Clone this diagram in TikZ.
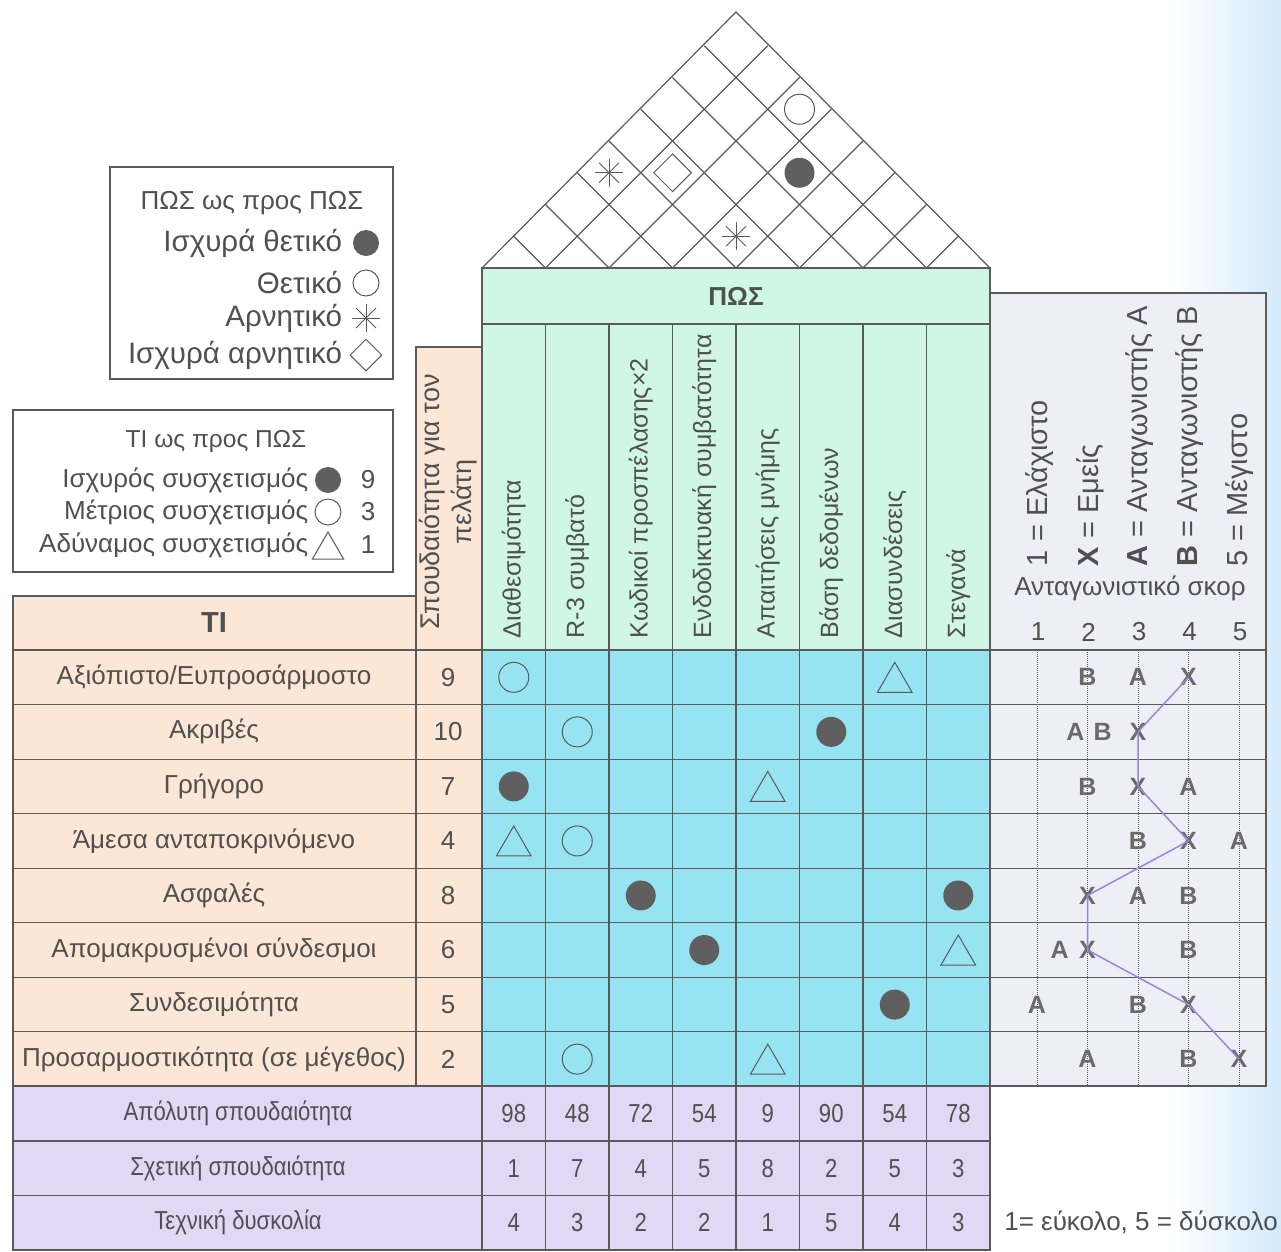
\documentclass[tikz,border=0pt]{standalone}
\usepackage{fontspec,graphicx}
\setmainfont{Liberation Sans}
\usetikzlibrary{shapes.geometric,calc}

\definecolor{lineg}{RGB}{90,90,90}
\definecolor{textg}{RGB}{80,80,80}
\definecolor{markg}{RGB}{95,95,95}
\definecolor{mint}{RGB}{208,246,230}
\definecolor{cyanc}{RGB}{150,228,242}
\definecolor{peach}{RGB}{252,230,214}
\definecolor{lav}{RGB}{225,216,246}
\definecolor{panelg}{RGB}{238,238,246}
\definecolor{xline}{RGB}{150,135,215}
\definecolor{edgeblue}{RGB}{212,234,250}

\begin{document}
\begin{tikzpicture}[x=1pt,y=-1pt,line width=1.2pt,color=lineg,
            every node/.style={text=textg,font=\fontsize{26}{31}\selectfont},
            strongmark/.style={circle,fill=markg,minimum size=30pt,inner sep=0pt},
            medmark/.style={circle,draw=lineg,line width=1pt,minimum size=30pt,inner sep=0pt},
            weakmark/.style={regular polygon,regular polygon sides=3,draw=lineg,line width=1pt,minimum size=40pt,inner sep=0pt,yshift=-5pt},
            negmark/.style={circle,minimum size=30pt,inner sep=0pt},
            strongnegmark/.style={diamond,draw=lineg,line width=1pt,minimum size=38pt,inner sep=0pt},
            scoremark/.style={font=\bfseries\fontsize{25}{28}\selectfont,text=textg!85},
            keytext/.style={font=\fontsize{29.5}{34}\selectfont},
            vlabel/.style={rotate=90,anchor=west}]
            \useasboundingbox (0,0) rectangle (1281,1251);
            \fill[white] (0,0) rectangle (1281,1251);
            \shade[left color=white,right color=edgeblue] (1170,0) rectangle (1281,1251);

            \draw[fill=white] (482,268) -- (736,12) -- (990,268);
            \foreach \k in {1,...,7}{
                \pgfmathsetmacro{\xb}{482+63.5*\k}
                \draw (\xb,268) -- ({(\xb+990)/2},{268-(990-\xb)/2});
                \draw (\xb,268) -- ({(\xb+482)/2},{268-(\xb-482)/2});
            }
            \node[medmark] (r27) at (799.5,109.25) {};
            \node[strongmark] (r36) at (799.5,172.75) {};
            \node[negmark] (r03) at (609,172.75) {};
            \node[strongnegmark] (r14) at (672.5,172.75) {};
            \node[negmark] (r34) at (736,236.25) {};

            \draw[fill=mint] (482,268) rectangle (990,324);
            \node[font=\bfseries\fontsize{26}{31}\selectfont] (pos) at (736,296) {ΠΩΣ};
            \draw[fill=mint] (482,324) rectangle (990,650);
            \draw[fill=cyanc] (482,650) rectangle (990,1086);
            \draw[fill=lav] (13,1086) rectangle (990,1250);
            \draw[fill=peach] (13,596) rectangle (416,1086);
            \draw[fill=peach] (416,347) rectangle (482,1086);
            \draw[fill=panelg] (990,293) rectangle (1266,1086);
            \foreach \k in {1,...,7}
                \draw ({482+63.5*\k},324) -- ({482+63.5*\k},1250);
            \draw (482,1086) -- (482,1250);
            \draw (13,650) -- (1266,650);
            \foreach \r in {1,...,7}
                \draw (13,{650+54.545*\r}) -- (1266,{650+54.545*\r});
            \foreach \r in {9,10}
                \draw (13,{650+54.545*\r}) -- (990,{650+54.545*\r});
            \foreach \s in {1,...,5}
                \draw[densely dotted,line width=1pt] ({1037+50.5*(\s-1)},650) -- ({1037+50.5*(\s-1)},1086);

            \node[font=\bfseries\fontsize{29}{34}\selectfont] (ti) at (214,623) {ΤΙ};
            \foreach \t [count=\i from 0] in {{Αξιόπιστο/Ευπροσάρμοστο},Ακριβές,Γρήγορο,{Άμεσα ανταποκρινόμενο},Ασφαλές,{Απομακρυσμένοι σύνδεσμοι},Συνδεσιμότητα,{Προσαρμοστικότητα (σε μέγεθος)}}
                \node (what\i) at (214,{677.3+54.545*\i}) {\t};
            \node[align=center,rotate=90,font=\fontsize{27}{32}\selectfont] (imphead) at (448,502) {Σπουδαιότητα για τον\\πελάτη};
            \foreach \v [count=\i from 0] in {9,10,7,4,8,6,5,2}
                \node (imp\i) at (448,{677.3+54.545*\i}) {\v};
            \foreach \t [count=\i from 0] in {Διαθεσιμότητα,R-3 συμβατό,Κωδικοί προσπέλασης×2,Ενδοδικτυακή συμβατότητα,Απαιτήσεις μνήμης,Βάση δεδομένων,Διασυνδέσεις,Στεγανά}
                \node[vlabel,font=\fontsize{25}{30}\selectfont] (how\i) at ({513.75+63.5*\i},642) {\t};

            \foreach \r/\c/\s in {0/0/medmark,0/6/weakmark,1/1/medmark,1/5/strongmark,2/0/strongmark,2/4/weakmark,3/0/weakmark,3/1/medmark,4/2/strongmark,4/7/strongmark,5/3/strongmark,5/7/weakmark,6/6/strongmark,7/1/medmark,7/4/weakmark}
                \node[style=\s] (m\r\c) at ({513.75+63.5*\c},{677.3+54.545*\r}) {};

            \node (abs) at (238,1113.6) {\scalebox{0.85}[1]{Απόλυτη σπουδαιότητα}};
            \node (rel) at (238,1168.2) {\scalebox{0.85}[1]{Σχετική σπουδαιότητα}};
            \node (dif) at (238,1222.7) {\scalebox{0.85}[1]{Τεχνική δυσκολία}};
            \foreach \v [count=\i from 0] in {98,48,72,54,9,90,54,78}
                \node (abs\i) at ({513.75+63.5*\i},1113.6) {\scalebox{0.85}[1]{\v}};
            \foreach \v [count=\i from 0] in {1,7,4,5,8,2,5,3}
                \node (rel\i) at ({513.75+63.5*\i},1168.2) {\scalebox{0.85}[1]{\v}};
            \foreach \v [count=\i from 0] in {4,3,2,2,1,5,4,3}
                \node (dif\i) at ({513.75+63.5*\i},1222.7) {\scalebox{0.85}[1]{\v}};
            \node (easy) at (1141,1222.7) {1= εύκολο, 5 = δύσκολο};

            \draw[fill=white] (110,167) rectangle (393,379);
            \node (lg1) at (252,203) {ΠΩΣ ως προς ΠΩΣ};
            \node[keytext,anchor=east] (lg1a) at (346,243) {Ισχυρά θετικό};
            \node[strongmark,minimum size=26pt] (lgs) at (366,243) {};
            \node[keytext,anchor=east] (lg1b) at (346,283) {Θετικό};
            \node[medmark,minimum size=26pt] (lgm) at (366,283) {};
            \node[keytext,anchor=east] (lg1c) at (346,318) {Αρνητικό};
            \node[negmark] (lgneg) at (366,318) {};
            \node[keytext,anchor=east] (lg1d) at (346,355) {Ισχυρά αρνητικό};
            \node[strongnegmark,minimum size=32pt] (lgsn) at (366,355) {};
            \foreach \n in {r03,r34,lgneg}
                \foreach \a in {0,45,90,135}
                    \draw[line width=1pt] ($(\n)+(\a:14pt)$) -- ($(\n)+(\a+180:14pt)$);

            \draw[fill=white] (13,410) rectangle (393,572);
            \node[font=\fontsize{24.5}{29}\selectfont] (lg2) at (216,441) {ΤΙ ως προς ΠΩΣ};
            \node[anchor=east] (lg2a) at (312,480) {Ισχυρός συσχετισμός};
            \node[strongmark,minimum size=26pt] (lgs2) at (328,480) {};
            \node (lg2na) at (368,480) {9};
            \node[anchor=east] (lg2b) at (312,512) {Μέτριος συσχετισμός};
            \node[medmark,minimum size=26pt] (lgm2) at (328,512) {};
            \node (lg2nb) at (368,512) {3};
            \node[anchor=east] (lg2c) at (312,545) {Αδύναμος συσχετισμός};
            \node[weakmark,minimum size=36pt] (lgw2) at (328,545) {};
            \node (lg2nc) at (368,545) {1};

            \node[vlabel,font=\fontsize{29}{34}\selectfont] (k1) at (1040,570) {1 = Ελάχιστο};
            \node[vlabel,font=\fontsize{29}{34}\selectfont] (k2) at (1090,570) {\textbf{X} = Εμείς};
            \node[vlabel,font=\fontsize{29}{34}\selectfont] (k3) at (1140,570) {\textbf{A} = Ανταγωνιστής A};
            \node[vlabel,font=\fontsize{29}{34}\selectfont] (k4) at (1190,570) {\textbf{B} = Ανταγωνιστής B};
            \node[vlabel,font=\fontsize{29}{34}\selectfont] (k5) at (1240,570) {5 = Μέγιστο};
            \node (score) at (1130,588) {Ανταγωνιστικό σκορ};
            \foreach \s in {1,...,5}
                \node (sc\s) at ({1038+50.5*(\s-1)},632) {\s};

            \foreach \r/\s in {0/4,1/3,2/3,3/4,4/2,5/2,6/4,7/5}
                \node[scoremark] (x\r) at ({1037+50.5*(\s-1)},{677.3+54.545*\r}) {X};
            \foreach \r/\s in {0/3,1/1.76,2/4,3/5,4/3,5/1.45,6/1,7/2}
                \node[scoremark] (a\r) at ({1037+50.5*(\s-1)},{677.3+54.545*\r}) {A};
            \foreach \r/\s in {0/2,1/2.3,2/2,3/3,4/4,5/4,6/3,7/4}
                \node[scoremark] (b\r) at ({1037+50.5*(\s-1)},{677.3+54.545*\r}) {B};
            \draw[xline,line width=1.5pt] (x0.center) -- (x1.center) -- (x2.center) -- (x3.center) -- (x4.center) -- (x5.center) -- (x6.center) -- (x7.center);
        \end{tikzpicture}
\end{document}
